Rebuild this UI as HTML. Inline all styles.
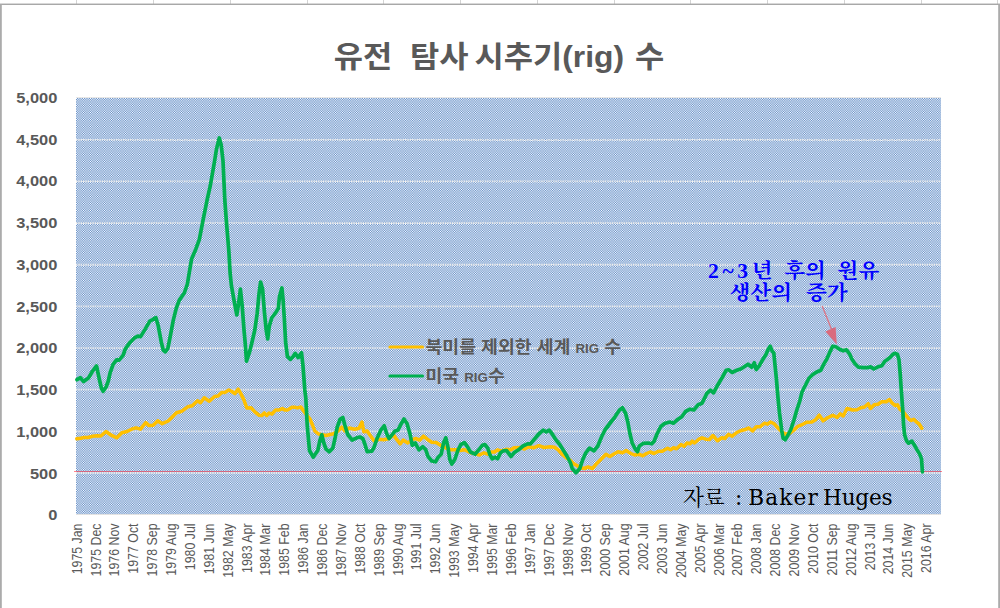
<!DOCTYPE html><html lang="ko"><head><meta charset="utf-8"><title>유전 탐사 시추기(rig) 수</title><style>html,body{margin:0;padding:0;background:#fff}body{width:1000px;height:608px;overflow:hidden}</style></head><body><svg width="1000" height="608" viewBox="0 0 1000 608" style="display:block">

<defs><pattern id="pt" x="76" y="98" width="7" height="7" patternUnits="userSpaceOnUse" shape-rendering="crispEdges"><rect x="0" y="0" width="1" height="1" fill="#fcfdfe"/><rect x="1" y="0" width="1" height="1" fill="#7097cc"/><rect x="2" y="0" width="1" height="1" fill="#cfdcee"/><rect x="3" y="0" width="1" height="1" fill="#9eb9dc"/><rect x="4" y="0" width="1" height="1" fill="#9eb9dc"/><rect x="5" y="0" width="1" height="1" fill="#cfdcee"/><rect x="6" y="0" width="1" height="1" fill="#7097cc"/><rect x="0" y="1" width="1" height="1" fill="#7097cc"/><rect x="1" y="1" width="1" height="1" fill="#d6e1f0"/><rect x="2" y="1" width="1" height="1" fill="#91afd8"/><rect x="3" y="1" width="1" height="1" fill="#b4c9e4"/><rect x="4" y="1" width="1" height="1" fill="#b4c9e4"/><rect x="5" y="1" width="1" height="1" fill="#91afd8"/><rect x="6" y="1" width="1" height="1" fill="#d6e1f0"/><rect x="0" y="2" width="1" height="1" fill="#cfdcee"/><rect x="1" y="2" width="1" height="1" fill="#91afd8"/><rect x="2" y="2" width="1" height="1" fill="#bbcee7"/><rect x="3" y="2" width="1" height="1" fill="#a5bedf"/><rect x="4" y="2" width="1" height="1" fill="#a5bedf"/><rect x="5" y="2" width="1" height="1" fill="#bbcee7"/><rect x="6" y="2" width="1" height="1" fill="#91afd8"/><rect x="0" y="3" width="1" height="1" fill="#9eb9dc"/><rect x="1" y="3" width="1" height="1" fill="#b4c9e4"/><rect x="2" y="3" width="1" height="1" fill="#a5bedf"/><rect x="3" y="3" width="1" height="1" fill="#adc3e2"/><rect x="4" y="3" width="1" height="1" fill="#adc3e2"/><rect x="5" y="3" width="1" height="1" fill="#a5bedf"/><rect x="6" y="3" width="1" height="1" fill="#b4c9e4"/><rect x="0" y="4" width="1" height="1" fill="#9eb9dc"/><rect x="1" y="4" width="1" height="1" fill="#b4c9e4"/><rect x="2" y="4" width="1" height="1" fill="#a5bedf"/><rect x="3" y="4" width="1" height="1" fill="#adc3e2"/><rect x="4" y="4" width="1" height="1" fill="#adc3e2"/><rect x="5" y="4" width="1" height="1" fill="#a5bedf"/><rect x="6" y="4" width="1" height="1" fill="#b4c9e4"/><rect x="0" y="5" width="1" height="1" fill="#cfdcee"/><rect x="1" y="5" width="1" height="1" fill="#91afd8"/><rect x="2" y="5" width="1" height="1" fill="#bbcee7"/><rect x="3" y="5" width="1" height="1" fill="#a5bedf"/><rect x="4" y="5" width="1" height="1" fill="#a5bedf"/><rect x="5" y="5" width="1" height="1" fill="#bbcee7"/><rect x="6" y="5" width="1" height="1" fill="#91afd8"/><rect x="0" y="6" width="1" height="1" fill="#7097cc"/><rect x="1" y="6" width="1" height="1" fill="#d6e1f0"/><rect x="2" y="6" width="1" height="1" fill="#91afd8"/><rect x="3" y="6" width="1" height="1" fill="#b4c9e4"/><rect x="4" y="6" width="1" height="1" fill="#b4c9e4"/><rect x="5" y="6" width="1" height="1" fill="#91afd8"/><rect x="6" y="6" width="1" height="1" fill="#d6e1f0"/></pattern></defs>
<rect width="1000" height="608" fill="#fff"/>
<rect x="76" y="0" width="1" height="4" fill="#d4d4d4"/><rect x="153" y="0" width="1" height="4" fill="#d4d4d4"/><rect x="230" y="0" width="1" height="4" fill="#d4d4d4"/><rect x="307" y="0" width="1" height="4" fill="#d4d4d4"/><rect x="383" y="0" width="1" height="4" fill="#d4d4d4"/><rect x="460" y="0" width="1" height="4" fill="#d4d4d4"/><rect x="537" y="0" width="1" height="4" fill="#d4d4d4"/><rect x="614" y="0" width="1" height="4" fill="#d4d4d4"/><rect x="690" y="0" width="1" height="4" fill="#d4d4d4"/><rect x="767" y="0" width="1" height="4" fill="#d4d4d4"/><rect x="844" y="0" width="1" height="4" fill="#d4d4d4"/><rect x="921" y="0" width="1" height="4" fill="#d4d4d4"/><rect x="997" y="0" width="1" height="4" fill="#d4d4d4"/>
<rect x="0" y="3.55" width="1000" height="1.45" fill="#a8a8a8"/>
<rect x="0" y="4" width="1.8" height="604" fill="#ababab"/>
<rect x="998.2" y="4" width="1.8" height="604" fill="#ababab"/>
<rect x="76" y="98" width="865" height="416" fill="url(#pt)" shape-rendering="crispEdges"/>
<line x1="76" y1="473.00" x2="941" y2="473.00" stroke="#ececec" stroke-width="1.8" stroke-dasharray="1.35 1"/>
<line x1="76" y1="431.35" x2="941" y2="431.35" stroke="#ececec" stroke-width="1.8" stroke-dasharray="1.35 1"/>
<line x1="76" y1="389.70" x2="941" y2="389.70" stroke="#ececec" stroke-width="1.8" stroke-dasharray="1.35 1"/>
<line x1="76" y1="348.05" x2="941" y2="348.05" stroke="#ececec" stroke-width="1.8" stroke-dasharray="1.35 1"/>
<line x1="76" y1="306.40" x2="941" y2="306.40" stroke="#ececec" stroke-width="1.8" stroke-dasharray="1.35 1"/>
<line x1="76" y1="264.75" x2="941" y2="264.75" stroke="#ececec" stroke-width="1.8" stroke-dasharray="1.35 1"/>
<line x1="76" y1="223.10" x2="941" y2="223.10" stroke="#ececec" stroke-width="1.8" stroke-dasharray="1.35 1"/>
<line x1="76" y1="181.45" x2="941" y2="181.45" stroke="#ececec" stroke-width="1.8" stroke-dasharray="1.35 1"/>
<line x1="76" y1="139.80" x2="941" y2="139.80" stroke="#ececec" stroke-width="1.8" stroke-dasharray="1.35 1"/>
<rect x="76" y="97" width="865" height="1" fill="#e6e6e6"/><rect x="76" y="514" width="865" height="1" fill="#e2e2e2"/>
<line x1="74" y1="471.5" x2="942" y2="471.5" stroke="#ff1020" stroke-width="1" opacity="0.5"/>
<path d="M76.8 438.7 L80.5 438.2 L84.2 437.5 L88.0 437.5 L92.5 436.3 L97.0 435.7 L100.8 436.0 L106.0 431.5 L111.2 435.2 L116.8 437.8 L121.8 432.7 L127.0 431.5 L131.5 429.2 L136.0 427.8 L140.5 429.2 L145.8 422.5 L148.8 425.5 L153.2 425.2 L157.8 420.7 L162.2 423.7 L168.2 421.0 L172.0 417.2 L176.5 412.8 L181.8 411.2 L187.8 406.8 L192.2 405.7 L197.5 400.8 L200.5 402.7 L204.2 397.8 L209.3 401.2 L214.6 396.5 L218.0 396.0 L221.6 392.4 L225.2 392.4 L228.8 390.0 L231.8 391.5 L234.8 393.6 L238.2 389.1 L240.8 393.6 L243.8 399.6 L246.8 408.0 L251.0 407.8 L254.6 411.6 L258.9 415.2 L261.9 415.5 L264.3 412.9 L266.7 415.5 L269.1 413.1 L272.0 414.0 L275.7 409.9 L279.3 409.9 L282.3 408.6 L284.7 409.9 L287.7 409.9 L291.9 407.2 L294.7 407.3 L297.7 407.9 L300.7 406.9 L303.3 410.4 L306.3 414.6 L309.9 418.9 L312.7 425.5 L314.8 431.0 L318.5 434.0 L326.0 435.5 L333.5 433.7 L338.0 431.0 L341.8 427.2 L344.8 431.0 L349.2 428.0 L354.5 429.2 L359.0 428.3 L362.0 422.0 L363.8 431.8 L367.2 431.0 L370.2 435.5 L374.0 440.8 L378.5 439.2 L383.8 439.7 L389.0 438.5 L393.5 434.8 L396.5 439.2 L400.2 443.8 L403.2 440.0 L407.8 443.0 L411.5 440.0 L415.2 438.5 L419.8 440.0 L423.5 436.2 L427.2 439.2 L431.8 442.2 L436.2 442.5 L440.5 445.2 L445.0 447.5 L451.0 449.8 L456.2 449.8 L460.0 450.5 L464.5 449.8 L470.5 452.8 L475.0 453.5 L479.5 455.0 L484.0 452.8 L487.8 454.2 L491.5 452.0 L494.5 452.0 L497.5 449.8 L500.5 451.2 L506.5 449.3 L511.0 449.8 L514.0 447.8 L520.0 447.5 L524.5 449.0 L529.0 446.8 L533.5 447.8 L538.8 445.7 L544.0 447.5 L550.0 446.8 L554.5 447.2 L558.2 449.8 L562.0 454.2 L566.5 458.0 L570.5 460.5 L573.0 463.2 L576.8 465.5 L580.5 467.8 L584.2 468.5 L588.0 467.0 L592.5 468.5 L597.0 463.2 L601.5 458.8 L606.0 454.2 L609.8 456.5 L613.5 454.2 L618.0 451.7 L622.5 452.8 L626.2 450.5 L630.8 453.5 L634.5 455.0 L639.0 454.2 L642.8 455.8 L646.5 453.5 L650.2 452.0 L654.0 453.5 L658.5 451.2 L662.2 451.2 L667.5 448.2 L670.5 449.8 L673.5 447.8 L676.5 448.7 L681.0 444.5 L684.0 446.3 L687.0 443.0 L690.0 443.8 L692.2 441.2 L694.5 443.0 L699.0 439.2 L702.0 437.8 L705.8 439.2 L709.5 439.5 L712.9 435.5 L717.5 440.8 L721.8 437.8 L724.8 438.5 L728.5 434.3 L732.2 436.2 L736.8 432.5 L740.5 430.7 L744.2 429.8 L748.8 428.0 L752.5 431.0 L756.2 426.8 L760.0 426.8 L764.5 423.2 L767.5 424.2 L770.5 422.0 L774.2 423.8 L778.0 428.0 L781.8 431.8 L785.5 434.3 L790.0 433.2 L793.8 430.2 L797.5 426.5 L802.0 424.7 L806.5 422.3 L811.8 422.0 L815.5 419.8 L819.2 415.2 L823.0 420.8 L827.5 417.8 L832.8 415.2 L837.2 417.5 L840.2 413.8 L843.2 416.0 L847.0 408.5 L852.5 410.0 L857.0 409.7 L860.8 407.8 L864.5 407.0 L868.2 403.7 L870.5 408.5 L874.2 404.8 L878.0 404.3 L881.8 401.8 L886.2 401.8 L889.5 399.5 L892.2 403.2 L895.2 405.5 L897.5 404.8 L899.8 409.2 L903.5 412.2 L907.2 416.8 L909.5 419.6 L911.3 420.4 L913.7 419.2 L916.7 422.2 L919.1 424.0 L921.8 428.2" fill="none" stroke="#ffc000" stroke-width="3.5" stroke-linejoin="round" stroke-linecap="round"/>
<path d="M77.0 379.7 L80.4 377.7 L83.6 381.5 L88.5 378.0 L92.3 371.5 L96.5 365.9 L99.5 380.0 L101.5 388.5 L103.2 391.3 L106.1 387.0 L108.3 381.0 L110.1 372.8 L113.1 364.3 L116.5 359.8 L119.1 360.2 L123.2 355.2 L125.2 349.2 L130.2 342.2 L134.2 338.2 L137.8 336.2 L140.6 336.6 L145.2 329.1 L149.8 321.1 L152.6 319.7 L155.9 317.7 L158.3 326.1 L161.3 342.2 L163.3 350.2 L165.3 351.8 L167.9 348.2 L170.3 336.2 L173.3 320.1 L176.3 308.1 L179.3 300.1 L184.3 293.0 L187.4 284.0 L189.2 273.0 L191.6 258.9 L195.8 249.2 L199.3 239.6 L203.0 220.4 L207.1 200.0 L210.2 186.2 L214.6 161.0 L216.5 149.0 L219.3 138.0 L221.2 145.0 L223.0 161.0 L224.8 200.0 L226.5 222.8 L228.9 251.7 L230.1 273.0 L231.4 285.6 L234.4 302.4 L236.8 315.0 L238.6 303.6 L240.4 289.2 L242.2 306.0 L244.0 330.0 L245.2 343.0 L246.5 361.2 L249.5 352.2 L251.8 343.0 L254.8 330.0 L257.2 313.2 L259.0 294.0 L260.6 282.0 L262.6 289.2 L264.4 312.0 L266.2 330.0 L267.7 339.0 L269.2 326.5 L271.7 318.0 L275.3 313.2 L278.3 308.4 L279.5 296.4 L281.9 288.0 L283.1 300.0 L284.3 318.0 L285.6 342.0 L287.4 356.4 L290.4 359.4 L292.8 357.0 L295.2 353.4 L298.2 357.6 L301.5 352.8 L303.0 366.0 L304.8 390.0 L305.8 398.0 L307.2 425.0 L309.5 450.5 L313.2 457.2 L317.8 450.5 L320.0 440.0 L321.8 434.8 L323.8 443.0 L326.0 449.0 L329.3 451.7 L332.8 448.2 L335.0 438.5 L337.2 427.2 L340.2 419.0 L342.8 417.5 L344.8 425.0 L347.8 434.8 L352.2 440.0 L356.8 437.8 L359.8 437.0 L362.8 438.5 L365.0 444.5 L367.2 451.7 L371.8 451.2 L374.0 447.5 L377.0 438.5 L380.8 430.2 L384.2 425.8 L386.8 434.0 L389.0 438.5 L392.0 434.8 L395.0 431.0 L398.0 430.2 L401.0 424.2 L404.0 419.0 L407.0 423.5 L410.0 434.0 L412.2 445.2 L415.2 443.0 L419.0 449.8 L422.8 446.8 L425.8 449.8 L428.0 456.5 L431.8 461.0 L435.5 461.8 L438.2 457.2 L441.2 454.2 L443.5 443.0 L445.8 437.8 L448.0 447.5 L449.8 459.5 L451.8 464.0 L454.8 459.5 L457.8 450.5 L460.8 444.5 L464.5 442.7 L467.5 446.8 L470.5 452.0 L475.0 454.2 L478.8 449.8 L482.5 445.2 L484.8 444.5 L487.8 448.2 L490.0 455.0 L492.2 458.8 L495.2 457.2 L497.5 458.8 L500.5 452.8 L503.5 450.8 L506.5 450.5 L508.8 453.5 L511.0 456.5 L514.0 452.8 L518.5 449.8 L523.0 446.0 L527.5 443.8 L530.5 443.8 L535.0 438.5 L538.8 434.0 L543.2 430.2 L546.2 431.8 L549.2 430.2 L552.2 434.0 L556.0 440.0 L559.8 444.5 L563.5 450.5 L567.2 456.5 L570.5 463.0 L572.2 468.5 L576.0 472.7 L579.8 468.5 L582.8 459.5 L585.8 452.8 L589.5 448.2 L594.0 450.8 L597.8 446.0 L601.5 437.0 L605.2 429.5 L609.8 423.5 L615.0 416.8 L619.5 410.0 L622.5 407.8 L625.5 413.0 L627.8 422.0 L630.0 434.0 L632.2 443.0 L635.2 449.0 L637.5 451.7 L639.3 446.0 L643.5 443.3 L648.0 443.0 L651.8 443.8 L654.0 441.5 L657.0 434.0 L660.8 426.5 L664.5 423.5 L669.8 422.0 L673.5 423.2 L677.2 419.8 L681.8 416.8 L685.5 411.5 L690.0 409.2 L693.8 410.0 L698.2 404.8 L702.0 403.2 L704.2 398.8 L706.8 393.5 L710.5 390.2 L713.5 392.8 L718.0 384.5 L722.5 377.0 L726.2 370.2 L728.5 369.8 L732.2 372.5 L736.8 370.2 L741.2 368.8 L745.0 366.2 L748.0 364.2 L751.8 367.2 L754.3 362.8 L756.2 369.5 L759.2 365.8 L762.2 360.5 L766.0 354.5 L768.2 349.2 L770.2 346.2 L772.0 350.8 L773.8 353.0 L775.0 365.0 L776.5 380.0 L778.0 398.0 L779.5 413.0 L781.8 431.0 L783.2 438.5 L785.2 439.7 L787.8 435.5 L790.8 429.5 L793.8 420.5 L796.8 410.0 L799.8 401.0 L802.0 392.0 L805.8 384.5 L808.8 378.5 L812.5 374.8 L816.2 372.2 L820.8 370.2 L823.8 364.2 L826.8 359.0 L829.8 352.2 L832.8 346.2 L835.8 346.7 L839.5 349.2 L843.2 350.8 L846.5 349.8 L849.5 353.8 L851.8 359.0 L854.8 363.5 L858.5 367.2 L863.0 367.7 L867.5 367.7 L870.5 366.8 L873.8 368.8 L878.0 366.8 L881.8 365.8 L884.8 361.2 L887.0 359.8 L890.0 357.5 L893.0 354.2 L895.2 353.3 L897.5 354.5 L899.0 359.8 L900.2 374.0 L901.2 389.0 L902.3 404.0 L902.9 412.0 L903.5 424.0 L904.6 434.8 L906.5 440.8 L908.6 443.2 L911.9 441.1 L914.3 445.0 L916.7 449.2 L919.7 454.1 L921.5 458.9 L922.1 467.3 L922.4 472.0" fill="none" stroke="#00b050" stroke-width="3.7" stroke-linejoin="round" stroke-linecap="round"/>
<text transform="translate(57.3 520.4) scale(1.15 1)" text-anchor="end" font-family='"Liberation Sans","Noto Sans CJK KR",sans-serif' font-size="14.3" font-weight="bold" fill="#595959">0</text>
<text transform="translate(57.3 478.6) scale(1.15 1)" text-anchor="end" font-family='"Liberation Sans","Noto Sans CJK KR",sans-serif' font-size="14.3" font-weight="bold" fill="#595959">500</text>
<text transform="translate(57.3 436.9) scale(1.15 1)" text-anchor="end" font-family='"Liberation Sans","Noto Sans CJK KR",sans-serif' font-size="14.3" font-weight="bold" fill="#595959">1,000</text>
<text transform="translate(57.3 395.1) scale(1.15 1)" text-anchor="end" font-family='"Liberation Sans","Noto Sans CJK KR",sans-serif' font-size="14.3" font-weight="bold" fill="#595959">1,500</text>
<text transform="translate(57.3 353.4) scale(1.15 1)" text-anchor="end" font-family='"Liberation Sans","Noto Sans CJK KR",sans-serif' font-size="14.3" font-weight="bold" fill="#595959">2,000</text>
<text transform="translate(57.3 311.6) scale(1.15 1)" text-anchor="end" font-family='"Liberation Sans","Noto Sans CJK KR",sans-serif' font-size="14.3" font-weight="bold" fill="#595959">2,500</text>
<text transform="translate(57.3 269.9) scale(1.15 1)" text-anchor="end" font-family='"Liberation Sans","Noto Sans CJK KR",sans-serif' font-size="14.3" font-weight="bold" fill="#595959">3,000</text>
<text transform="translate(57.3 228.1) scale(1.15 1)" text-anchor="end" font-family='"Liberation Sans","Noto Sans CJK KR",sans-serif' font-size="14.3" font-weight="bold" fill="#595959">3,500</text>
<text transform="translate(57.3 186.4) scale(1.15 1)" text-anchor="end" font-family='"Liberation Sans","Noto Sans CJK KR",sans-serif' font-size="14.3" font-weight="bold" fill="#595959">4,000</text>
<text transform="translate(57.3 144.6) scale(1.15 1)" text-anchor="end" font-family='"Liberation Sans","Noto Sans CJK KR",sans-serif' font-size="14.3" font-weight="bold" fill="#595959">4,500</text>
<text transform="translate(57.3 102.9) scale(1.15 1)" text-anchor="end" font-family='"Liberation Sans","Noto Sans CJK KR",sans-serif' font-size="14.3" font-weight="bold" fill="#595959">5,000</text>
<text transform="translate(81.66 523.5) rotate(-90) scale(0.864 1)" text-anchor="end" font-family='"Liberation Sans","Noto Sans CJK KR",sans-serif' font-size="14.3" fill="#595959">1975 Jan</text>
<text transform="translate(100.54 523.5) rotate(-90) scale(0.864 1)" text-anchor="end" font-family='"Liberation Sans","Noto Sans CJK KR",sans-serif' font-size="14.3" fill="#595959">1975 Dec</text>
<text transform="translate(119.42 523.5) rotate(-90) scale(0.864 1)" text-anchor="end" font-family='"Liberation Sans","Noto Sans CJK KR",sans-serif' font-size="14.3" fill="#595959">1976 Nov</text>
<text transform="translate(138.30 523.5) rotate(-90) scale(0.864 1)" text-anchor="end" font-family='"Liberation Sans","Noto Sans CJK KR",sans-serif' font-size="14.3" fill="#595959">1977 Oct</text>
<text transform="translate(157.17 523.5) rotate(-90) scale(0.864 1)" text-anchor="end" font-family='"Liberation Sans","Noto Sans CJK KR",sans-serif' font-size="14.3" fill="#595959">1978 Sep</text>
<text transform="translate(176.05 523.5) rotate(-90) scale(0.864 1)" text-anchor="end" font-family='"Liberation Sans","Noto Sans CJK KR",sans-serif' font-size="14.3" fill="#595959">1979 Aug</text>
<text transform="translate(194.93 523.5) rotate(-90) scale(0.864 1)" text-anchor="end" font-family='"Liberation Sans","Noto Sans CJK KR",sans-serif' font-size="14.3" fill="#595959">1980 Jul</text>
<text transform="translate(213.81 523.5) rotate(-90) scale(0.864 1)" text-anchor="end" font-family='"Liberation Sans","Noto Sans CJK KR",sans-serif' font-size="14.3" fill="#595959">1981 Jun</text>
<text transform="translate(232.69 523.5) rotate(-90) scale(0.864 1)" text-anchor="end" font-family='"Liberation Sans","Noto Sans CJK KR",sans-serif' font-size="14.3" fill="#595959">1982 May</text>
<text transform="translate(251.57 523.5) rotate(-90) scale(0.864 1)" text-anchor="end" font-family='"Liberation Sans","Noto Sans CJK KR",sans-serif' font-size="14.3" fill="#595959">1983 Apr</text>
<text transform="translate(270.45 523.5) rotate(-90) scale(0.864 1)" text-anchor="end" font-family='"Liberation Sans","Noto Sans CJK KR",sans-serif' font-size="14.3" fill="#595959">1984 Mar</text>
<text transform="translate(289.33 523.5) rotate(-90) scale(0.864 1)" text-anchor="end" font-family='"Liberation Sans","Noto Sans CJK KR",sans-serif' font-size="14.3" fill="#595959">1985 Feb</text>
<text transform="translate(308.21 523.5) rotate(-90) scale(0.864 1)" text-anchor="end" font-family='"Liberation Sans","Noto Sans CJK KR",sans-serif' font-size="14.3" fill="#595959">1986 Jan</text>
<text transform="translate(327.08 523.5) rotate(-90) scale(0.864 1)" text-anchor="end" font-family='"Liberation Sans","Noto Sans CJK KR",sans-serif' font-size="14.3" fill="#595959">1986 Dec</text>
<text transform="translate(345.96 523.5) rotate(-90) scale(0.864 1)" text-anchor="end" font-family='"Liberation Sans","Noto Sans CJK KR",sans-serif' font-size="14.3" fill="#595959">1987 Nov</text>
<text transform="translate(364.84 523.5) rotate(-90) scale(0.864 1)" text-anchor="end" font-family='"Liberation Sans","Noto Sans CJK KR",sans-serif' font-size="14.3" fill="#595959">1988 Oct</text>
<text transform="translate(383.72 523.5) rotate(-90) scale(0.864 1)" text-anchor="end" font-family='"Liberation Sans","Noto Sans CJK KR",sans-serif' font-size="14.3" fill="#595959">1989 Sep</text>
<text transform="translate(402.60 523.5) rotate(-90) scale(0.864 1)" text-anchor="end" font-family='"Liberation Sans","Noto Sans CJK KR",sans-serif' font-size="14.3" fill="#595959">1990 Aug</text>
<text transform="translate(421.48 523.5) rotate(-90) scale(0.864 1)" text-anchor="end" font-family='"Liberation Sans","Noto Sans CJK KR",sans-serif' font-size="14.3" fill="#595959">1991 Jul</text>
<text transform="translate(440.36 523.5) rotate(-90) scale(0.864 1)" text-anchor="end" font-family='"Liberation Sans","Noto Sans CJK KR",sans-serif' font-size="14.3" fill="#595959">1992 Jun</text>
<text transform="translate(459.24 523.5) rotate(-90) scale(0.864 1)" text-anchor="end" font-family='"Liberation Sans","Noto Sans CJK KR",sans-serif' font-size="14.3" fill="#595959">1993 May</text>
<text transform="translate(478.12 523.5) rotate(-90) scale(0.864 1)" text-anchor="end" font-family='"Liberation Sans","Noto Sans CJK KR",sans-serif' font-size="14.3" fill="#595959">1994 Apr</text>
<text transform="translate(497.00 523.5) rotate(-90) scale(0.864 1)" text-anchor="end" font-family='"Liberation Sans","Noto Sans CJK KR",sans-serif' font-size="14.3" fill="#595959">1995 Mar</text>
<text transform="translate(515.87 523.5) rotate(-90) scale(0.864 1)" text-anchor="end" font-family='"Liberation Sans","Noto Sans CJK KR",sans-serif' font-size="14.3" fill="#595959">1996 Feb</text>
<text transform="translate(534.75 523.5) rotate(-90) scale(0.864 1)" text-anchor="end" font-family='"Liberation Sans","Noto Sans CJK KR",sans-serif' font-size="14.3" fill="#595959">1997 Jan</text>
<text transform="translate(553.63 523.5) rotate(-90) scale(0.864 1)" text-anchor="end" font-family='"Liberation Sans","Noto Sans CJK KR",sans-serif' font-size="14.3" fill="#595959">1997 Dec</text>
<text transform="translate(572.51 523.5) rotate(-90) scale(0.864 1)" text-anchor="end" font-family='"Liberation Sans","Noto Sans CJK KR",sans-serif' font-size="14.3" fill="#595959">1998 Nov</text>
<text transform="translate(591.39 523.5) rotate(-90) scale(0.864 1)" text-anchor="end" font-family='"Liberation Sans","Noto Sans CJK KR",sans-serif' font-size="14.3" fill="#595959">1999 Oct</text>
<text transform="translate(610.27 523.5) rotate(-90) scale(0.864 1)" text-anchor="end" font-family='"Liberation Sans","Noto Sans CJK KR",sans-serif' font-size="14.3" fill="#595959">2000 Sep</text>
<text transform="translate(629.15 523.5) rotate(-90) scale(0.864 1)" text-anchor="end" font-family='"Liberation Sans","Noto Sans CJK KR",sans-serif' font-size="14.3" fill="#595959">2001 Aug</text>
<text transform="translate(648.03 523.5) rotate(-90) scale(0.864 1)" text-anchor="end" font-family='"Liberation Sans","Noto Sans CJK KR",sans-serif' font-size="14.3" fill="#595959">2002 Jul</text>
<text transform="translate(666.91 523.5) rotate(-90) scale(0.864 1)" text-anchor="end" font-family='"Liberation Sans","Noto Sans CJK KR",sans-serif' font-size="14.3" fill="#595959">2003 Jun</text>
<text transform="translate(685.79 523.5) rotate(-90) scale(0.864 1)" text-anchor="end" font-family='"Liberation Sans","Noto Sans CJK KR",sans-serif' font-size="14.3" fill="#595959">2004 May</text>
<text transform="translate(704.66 523.5) rotate(-90) scale(0.864 1)" text-anchor="end" font-family='"Liberation Sans","Noto Sans CJK KR",sans-serif' font-size="14.3" fill="#595959">2005 Apr</text>
<text transform="translate(723.54 523.5) rotate(-90) scale(0.864 1)" text-anchor="end" font-family='"Liberation Sans","Noto Sans CJK KR",sans-serif' font-size="14.3" fill="#595959">2006 Mar</text>
<text transform="translate(742.42 523.5) rotate(-90) scale(0.864 1)" text-anchor="end" font-family='"Liberation Sans","Noto Sans CJK KR",sans-serif' font-size="14.3" fill="#595959">2007 Feb</text>
<text transform="translate(761.30 523.5) rotate(-90) scale(0.864 1)" text-anchor="end" font-family='"Liberation Sans","Noto Sans CJK KR",sans-serif' font-size="14.3" fill="#595959">2008 Jan</text>
<text transform="translate(780.18 523.5) rotate(-90) scale(0.864 1)" text-anchor="end" font-family='"Liberation Sans","Noto Sans CJK KR",sans-serif' font-size="14.3" fill="#595959">2008 Dec</text>
<text transform="translate(799.06 523.5) rotate(-90) scale(0.864 1)" text-anchor="end" font-family='"Liberation Sans","Noto Sans CJK KR",sans-serif' font-size="14.3" fill="#595959">2009 Nov</text>
<text transform="translate(817.94 523.5) rotate(-90) scale(0.864 1)" text-anchor="end" font-family='"Liberation Sans","Noto Sans CJK KR",sans-serif' font-size="14.3" fill="#595959">2010 Oct</text>
<text transform="translate(836.82 523.5) rotate(-90) scale(0.864 1)" text-anchor="end" font-family='"Liberation Sans","Noto Sans CJK KR",sans-serif' font-size="14.3" fill="#595959">2011 Sep</text>
<text transform="translate(855.70 523.5) rotate(-90) scale(0.864 1)" text-anchor="end" font-family='"Liberation Sans","Noto Sans CJK KR",sans-serif' font-size="14.3" fill="#595959">2012 Aug</text>
<text transform="translate(874.57 523.5) rotate(-90) scale(0.864 1)" text-anchor="end" font-family='"Liberation Sans","Noto Sans CJK KR",sans-serif' font-size="14.3" fill="#595959">2013 Jul</text>
<text transform="translate(893.45 523.5) rotate(-90) scale(0.864 1)" text-anchor="end" font-family='"Liberation Sans","Noto Sans CJK KR",sans-serif' font-size="14.3" fill="#595959">2014 Jun</text>
<text transform="translate(912.33 523.5) rotate(-90) scale(0.864 1)" text-anchor="end" font-family='"Liberation Sans","Noto Sans CJK KR",sans-serif' font-size="14.3" fill="#595959">2015 May</text>
<text transform="translate(931.21 523.5) rotate(-90) scale(0.864 1)" text-anchor="end" font-family='"Liberation Sans","Noto Sans CJK KR",sans-serif' font-size="14.3" fill="#595959">2016 Apr</text>
<text transform="translate(499 66.5) scale(1.075 1)" text-anchor="middle" xml:space="preserve" font-family='"Liberation Sans","Noto Sans CJK KR",sans-serif' font-size="29.6" font-weight="bold" fill="#595959">유전  탐사 <tspan dx="-2.6">시추기(rig)</tspan><tspan dx="2"> 수</tspan></text>
<line x1="390" y1="347" x2="422.5" y2="347" stroke="#ffc000" stroke-width="3.2" stroke-linecap="round"/>
<text transform="translate(425.5 353.2) scale(1.065 1)" font-family='"Liberation Sans","Noto Sans CJK KR",sans-serif' font-size="17.2" font-weight="bold" fill="#595959">북미를 제외한 세계 <tspan font-size="12.5">RIG</tspan> 수</text>
<line x1="390" y1="376" x2="422.5" y2="376" stroke="#00b050" stroke-width="3.2" stroke-linecap="round"/>
<text transform="translate(425.5 382.2) scale(1.065 1)" font-family='"Liberation Sans","Noto Sans CJK KR",sans-serif' font-size="17.2" font-weight="bold" fill="#595959">미국 <tspan font-size="12.5">RIG</tspan>수</text>
<text transform="translate(708 277.9) scale(1 0.94)" word-spacing="6.3" font-family='"Liberation Serif","Noto Serif CJK SC",serif' font-size="21.6" font-weight="bold" fill="#0000ff"><tspan letter-spacing="3.6">2~3</tspan>년 후의 원유</text>
<text transform="translate(729.5 299.9) scale(1 0.94)" word-spacing="8.5" font-family='"Liberation Serif","Noto Serif CJK SC",serif' font-size="21.6" font-weight="bold" fill="#0000ff">생산의 증가</text>
<line x1="822.2" y1="306.1" x2="831.8" y2="330" stroke="#dc7585" stroke-width="1.3"/>
<polygon points="836.8,344.6 825.4,331.4 835.6,326.9" fill="#d96b7e"/>
<text x="683" y="504.5" font-family='"DejaVu Serif","Noto Serif CJK SC",serif' font-size="21.6" fill="#000">자료<tspan x="735">:</tspan><tspan x="748.3" letter-spacing="1.15">Baker</tspan><tspan x="823" letter-spacing="-0.2">Huges</tspan></text>
</svg></body></html>
